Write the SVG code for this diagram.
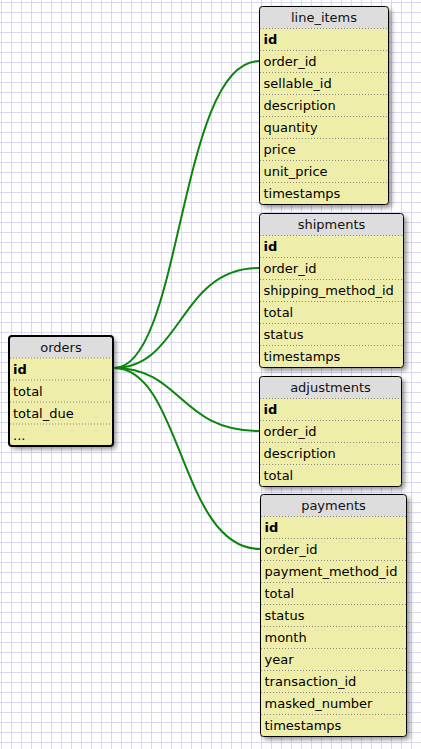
<svg xmlns="http://www.w3.org/2000/svg" width="421" height="749" viewBox="0 0 421 749">
<style>
.body{fill:#eeeeaa;}
.head{fill:#dddddd;}
.border{fill:none;stroke:#000;stroke-width:1;}
.border2{fill:none;stroke:#000;stroke-width:2;}
.sep{stroke:#888;stroke-width:1;stroke-dasharray:1,2;}
.t{font-family:"DejaVu Sans",Verdana,sans-serif;font-size:13px;fill:#000;}
.h{font-family:"DejaVu Sans",Verdana,sans-serif;font-size:13px;fill:#111;text-anchor:middle;}
.pk{font-weight:bold;}
.conn{fill:none;stroke:#0a870a;stroke-width:2;}
</style>
<defs>
<pattern id="grid" x="0" y="0" width="10" height="10" patternUnits="userSpaceOnUse">
<path d="M1.5,0 V10 M0,2.5 H10" stroke="#d8d8f2" stroke-width="1" fill="none"/>
</pattern>
<filter id="shadow" x="-20%" y="-20%" width="150%" height="150%">
<feDropShadow dx="3" dy="3" stdDeviation="2.5" flood-color="#000" flood-opacity="0.45"/>
</filter>
</defs>
<rect x="0" y="0" width="421" height="749" fill="#fff"/>
<rect x="0" y="0" width="421" height="749" fill="url(#grid)"/>

<g id="connectors">
<path class="conn" d="M114,368 C182,368 179,61 259,61"/>
<path class="conn" d="M114,368 C182,368 179,268 259,268"/>
<path class="conn" d="M114,368 C182,368 179,431 259,431"/>
<path class="conn" d="M114,368 C182,368 180,549 260,549"/>
</g>

<g id="orders">
<rect class="body" x="9" y="336" width="104" height="110" rx="3" filter="url(#shadow)"/>
<path class="head" d="M9,358 V339 Q9,336 12,336 H110 Q113,336 113,339 V358 Z"/>
<line class="sep" x1="10" y1="358" x2="112" y2="358"/>
<line class="sep" x1="10" y1="380" x2="112" y2="380"/>
<line class="sep" x1="10" y1="402" x2="112" y2="402"/>
<line class="sep" x1="10" y1="424" x2="112" y2="424"/>
<rect class="border2" x="9" y="336" width="104" height="110" rx="3"/>
<text class="h" x="61" y="352">orders</text>
<text class="t pk" x="13" y="374">id</text>
<text class="t" x="13" y="396">total</text>
<text class="t" x="13" y="418">total_due</text>
<text class="t" x="13" y="440">...</text>
</g>

<g id="line_items">
<rect class="body" x="259.5" y="6.5" width="129" height="198" rx="3" filter="url(#shadow)"/>
<path class="head" d="M259.5,28.5 V9.5 Q259.5,6.5 262.5,6.5 H385.5 Q388.5,6.5 388.5,9.5 V28.5 Z"/>
<line class="sep" x1="260" y1="28.5" x2="388" y2="28.5"/>
<line class="sep" x1="260" y1="50.5" x2="388" y2="50.5"/>
<line class="sep" x1="260" y1="72.5" x2="388" y2="72.5"/>
<line class="sep" x1="260" y1="94.5" x2="388" y2="94.5"/>
<line class="sep" x1="260" y1="116.5" x2="388" y2="116.5"/>
<line class="sep" x1="260" y1="138.5" x2="388" y2="138.5"/>
<line class="sep" x1="260" y1="160.5" x2="388" y2="160.5"/>
<line class="sep" x1="260" y1="182.5" x2="388" y2="182.5"/>
<rect class="border" x="259.5" y="6.5" width="129" height="198" rx="3"/>
<text class="h" x="324" y="22">line_items</text>
<text class="t pk" x="263.5" y="44">id</text>
<text class="t" x="263.5" y="66">order_id</text>
<text class="t" x="263.5" y="88">sellable_id</text>
<text class="t" x="263.5" y="110">description</text>
<text class="t" x="263.5" y="132">quantity</text>
<text class="t" x="263.5" y="154">price</text>
<text class="t" x="263.5" y="176">unit_price</text>
<text class="t" x="263.5" y="198">timestamps</text>
</g>

<g id="shipments">
<rect class="body" x="259.5" y="213.5" width="144" height="154" rx="3" filter="url(#shadow)"/>
<path class="head" d="M259.5,235.5 V216.5 Q259.5,213.5 262.5,213.5 H400.5 Q403.5,213.5 403.5,216.5 V235.5 Z"/>
<line class="sep" x1="260" y1="235.5" x2="403" y2="235.5"/>
<line class="sep" x1="260" y1="257.5" x2="403" y2="257.5"/>
<line class="sep" x1="260" y1="279.5" x2="403" y2="279.5"/>
<line class="sep" x1="260" y1="301.5" x2="403" y2="301.5"/>
<line class="sep" x1="260" y1="323.5" x2="403" y2="323.5"/>
<line class="sep" x1="260" y1="345.5" x2="403" y2="345.5"/>
<rect class="border" x="259.5" y="213.5" width="144" height="154" rx="3"/>
<text class="h" x="331.5" y="229">shipments</text>
<text class="t pk" x="263.5" y="251">id</text>
<text class="t" x="263.5" y="273">order_id</text>
<text class="t" x="263.5" y="295">shipping_method_id</text>
<text class="t" x="263.5" y="317">total</text>
<text class="t" x="263.5" y="339">status</text>
<text class="t" x="263.5" y="361">timestamps</text>
</g>

<g id="adjustments">
<rect class="body" x="259.5" y="376.5" width="142" height="110" rx="3" filter="url(#shadow)"/>
<path class="head" d="M259.5,398.5 V379.5 Q259.5,376.5 262.5,376.5 H398.5 Q401.5,376.5 401.5,379.5 V398.5 Z"/>
<line class="sep" x1="260" y1="398.5" x2="401" y2="398.5"/>
<line class="sep" x1="260" y1="420.5" x2="401" y2="420.5"/>
<line class="sep" x1="260" y1="442.5" x2="401" y2="442.5"/>
<line class="sep" x1="260" y1="464.5" x2="401" y2="464.5"/>
<rect class="border" x="259.5" y="376.5" width="142" height="110" rx="3"/>
<text class="h" x="330.5" y="392">adjustments</text>
<text class="t pk" x="263.5" y="414">id</text>
<text class="t" x="263.5" y="436">order_id</text>
<text class="t" x="263.5" y="458">description</text>
<text class="t" x="263.5" y="480">total</text>
</g>

<g id="payments">
<rect class="body" x="260.5" y="494.5" width="146" height="242" rx="3" filter="url(#shadow)"/>
<path class="head" d="M260.5,516.5 V497.5 Q260.5,494.5 263.5,494.5 H403.5 Q406.5,494.5 406.5,497.5 V516.5 Z"/>
<line class="sep" x1="261" y1="516.5" x2="406" y2="516.5"/>
<line class="sep" x1="261" y1="538.5" x2="406" y2="538.5"/>
<line class="sep" x1="261" y1="560.5" x2="406" y2="560.5"/>
<line class="sep" x1="261" y1="582.5" x2="406" y2="582.5"/>
<line class="sep" x1="261" y1="604.5" x2="406" y2="604.5"/>
<line class="sep" x1="261" y1="626.5" x2="406" y2="626.5"/>
<line class="sep" x1="261" y1="648.5" x2="406" y2="648.5"/>
<line class="sep" x1="261" y1="670.5" x2="406" y2="670.5"/>
<line class="sep" x1="261" y1="692.5" x2="406" y2="692.5"/>
<line class="sep" x1="261" y1="714.5" x2="406" y2="714.5"/>
<rect class="border" x="260.5" y="494.5" width="146" height="242" rx="3"/>
<text class="h" x="333.5" y="510">payments</text>
<text class="t pk" x="264.5" y="532">id</text>
<text class="t" x="264.5" y="554">order_id</text>
<text class="t" x="264.5" y="576">payment_method_id</text>
<text class="t" x="264.5" y="598">total</text>
<text class="t" x="264.5" y="620">status</text>
<text class="t" x="264.5" y="642">month</text>
<text class="t" x="264.5" y="664">year</text>
<text class="t" x="264.5" y="686">transaction_id</text>
<text class="t" x="264.5" y="708">masked_number</text>
<text class="t" x="264.5" y="730">timestamps</text>
</g>
</svg>
